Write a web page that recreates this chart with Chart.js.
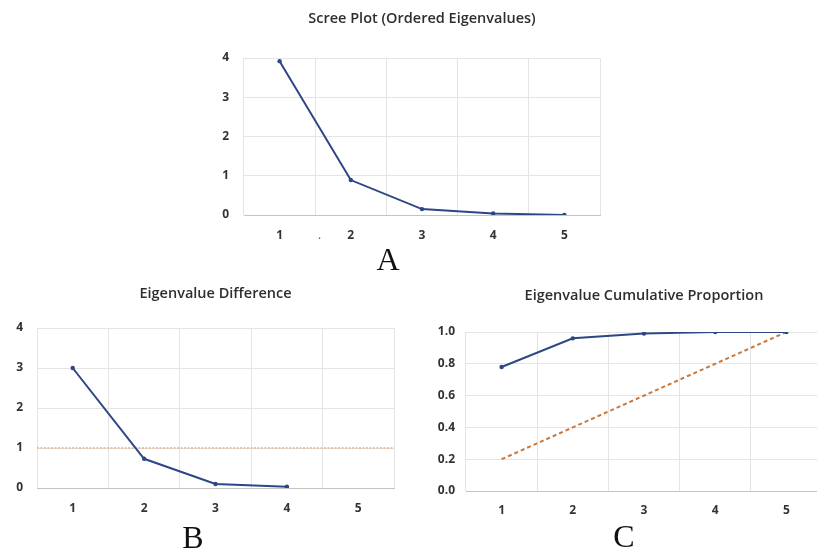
<!DOCTYPE html>
<html><head><meta charset="utf-8">
<script src="https://cdn.jsdelivr.net/npm/chart.js@4.4.0/dist/chart.umd.min.js"></script>
<style>
html,body{margin:0;padding:0;background:#fff;width:817px;height:549px;overflow:hidden;position:relative}
canvas{position:absolute}
.letter{position:absolute;font-family:'Liberation Serif','Times New Roman',serif;font-size:32px;line-height:32px;color:#111;transform:translate(-50%,-50%)}
.dot{position:absolute;font-family:'Open Sans',sans-serif;font-size:12px;color:#555}
</style></head><body>
<canvas id="ca" width="444" height="250" style="left:200px;top:0px"></canvas>
<canvas id="cb" width="431" height="255" style="left:0px;top:270px"></canvas>
<canvas id="cc" width="448" height="255" style="left:420px;top:270px"></canvas>
<div class="letter" style="left:388px;top:259px">A</div>
<div class="letter" style="left:193px;top:537px">B</div>
<div class="letter" style="left:624px;top:536px">C</div>
<div class="dot" style="left:318px;top:226px">.</div>
<script>
// ---- data ----
const components = [1, 2, 3, 4, 5];
const eigenvalues = [3.92, 0.89, 0.15, 0.04, 0.0];
const diffComponents = [1, 2, 3, 4];
const eigenDiffs = [3.0, 0.73, 0.10, 0.03];
const diffThresholdX = [0.5, 5.5];
const diffThreshold = [1, 1];
const cumulativeProportion = [0.78, 0.96, 0.99, 1.0, 1.0];
const equalShareLine = [0.2, 0.4, 0.6, 0.8, 1.0];
const eigenTicks = [0, 1, 2, 3, 4];
const propTicks = [0, 0.2, 0.4, 0.6, 0.8, 1.0];
const titles = ['Scree Plot (Ordered Eigenvalues)', 'Eigenvalue Difference', 'Eigenvalue Cumulative Proportion'];

const NAVY = '#2d4784';
const FONT = "'Open Sans', 'DejaVu Sans', sans-serif";
const pts = (xs, ys) => xs.map((x, i) => ({x: x, y: ys[i]}));

function build(id, cfg) {
  const ctx = document.getElementById(id);
  return new Chart(ctx, {
    type: 'line',
    data: {datasets: cfg.datasets},
    options: {
      responsive: false,
      animation: false,
      events: [],
      layout: {padding: {left: 0, right: 0, top: 0, bottom: cfg.bottomPad}},
      plugins: {
        legend: {display: false},
        tooltip: {enabled: false},
        title: {
          display: true, text: cfg.title, color: '#2e2e2e',
          font: {family: FONT, size: 14.5, weight: '600'},
          padding: {top: cfg.titleTop, bottom: cfg.titleBottom}
        }
      },
      scales: {
        x: {
          type: 'linear', min: 0.5, max: 5.5,
          afterBuildTicks: s => { s.ticks = components.map(v => ({value: v})); },
          afterFit: s => { s.height = 28; },
          grid: {offset: true, color: '#e4e4e4', drawTicks: false},
          border: {display: true, color: '#c4c4c4'},
          ticks: {padding: cfg.xPad, color: '#333', font: {family: FONT, size: 12, weight: '700'},
                  callback: v => String(v)}
        },
        y: {
          min: cfg.yMin, max: cfg.yMax,
          afterBuildTicks: s => { s.ticks = cfg.yTicks.map(v => ({value: v})); },
          afterFit: s => { s.width = cfg.yWidth; },
          grid: {color: '#e4e4e4', drawTicks: false},
          border: {display: false},
          ticks: {padding: cfg.yPad, color: '#333', font: {family: FONT, size: 12, weight: '700'},
                  callback: cfg.yFmt}
        },
        spacer: {
          type: 'linear', position: 'right', display: true,
          afterFit: s => { s.width = cfg.yWidth; },
          grid: {display: false, drawTicks: false},
          border: {display: false},
          ticks: {display: false}
        }
      }
    }
  });
}

const lineStyle = {borderColor: NAVY, backgroundColor: NAVY, borderWidth: 2, pointRadius: 2.2, pointBorderWidth: 0, tension: 0};

build('ca', {
  title: titles[0], titleTop: 10, titleBottom: 30.6,
  bottomPad: 7, yWidth: 44, yPad: 15, xPad: 13,
  yMin: 0, yMax: 4, yTicks: eigenTicks, yFmt: v => String(v),
  datasets: [Object.assign({data: pts(components, eigenvalues)}, lineStyle)]
});

build('cb', {
  title: titles[1], titleTop: 15.3, titleBottom: 25.3,
  bottomPad: 9, yWidth: 37, yPad: 14, xPad: 13,
  yMin: 0, yMax: 4, yTicks: eigenTicks, yFmt: v => String(v),
  datasets: [
    Object.assign({data: pts(diffComponents, eigenDiffs)}, lineStyle),
    {data: pts(diffThresholdX, diffThreshold), borderColor: '#e8b088', borderWidth: 1.5, borderDash: [2, 1.5], pointRadius: 0}
  ]
});

build('cc', {
  title: titles[2], titleTop: 17.3, titleBottom: 27.3,
  bottomPad: 6, yWidth: 46, yPad: 11, xPad: 12,
  yMin: 0, yMax: 1, yTicks: propTicks, yFmt: v => Number(v).toFixed(1),
  datasets: [
    Object.assign({data: pts(components, cumulativeProportion)}, lineStyle),
    {data: pts(components, equalShareLine), borderColor: '#c97638', borderWidth: 2, borderDash: [4, 3], pointRadius: 0}
  ]
});
</script>
</body></html>
